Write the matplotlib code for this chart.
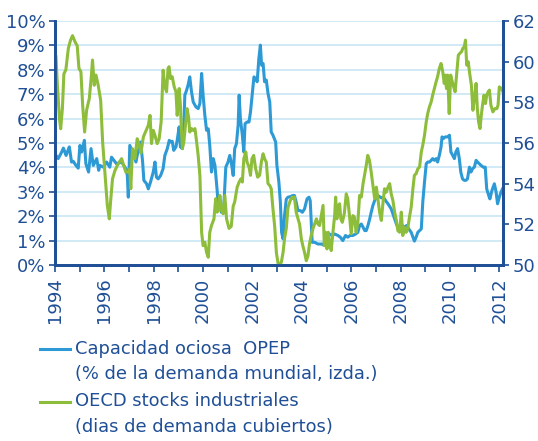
import matplotlib.pyplot as plt
from matplotlib.lines import Line2D
from matplotlib.ticker import FuncFormatter, MultipleLocator

# OPEP spare capacity (% of world demand, left axis)
blue_t = [1994.04, 1994.13, 1994.27, 1994.34, 1994.45, 1994.50, 1994.58, 1994.67, 1994.74, 1994.85,
          1994.94, 1995.01, 1995.08, 1995.19, 1995.25, 1995.36, 1995.46, 1995.55, 1995.69, 1995.77,
          1995.82, 1995.96, 1996.09, 1996.22, 1996.29, 1996.49, 1996.70, 1996.87, 1996.93, 1996.97,
          1997.03, 1997.17, 1997.28, 1997.33, 1997.47, 1997.55, 1997.60, 1997.71, 1997.78, 1997.87,
          1997.98, 1998.05, 1998.11, 1998.18, 1998.28, 1998.38, 1998.45, 1998.55, 1998.63, 1998.68,
          1998.75, 1998.81, 1998.90, 1998.95, 1999.03, 1999.08, 1999.16, 1999.22, 1999.26, 1999.33,
          1999.39, 1999.46, 1999.53, 1999.60, 1999.71, 1999.80, 1999.87, 1999.94, 2000.00, 2000.07,
          2000.14, 2000.21, 2000.27, 2000.34, 2000.41, 2000.48, 2000.57, 2000.62, 2000.68, 2000.74,
          2000.84, 2000.92, 2001.01, 2001.08, 2001.15, 2001.22, 2001.28, 2001.35, 2001.42, 2001.46,
          2001.51, 2001.59, 2001.65, 2001.70, 2001.78, 2001.86, 2001.92, 2002.00, 2002.06, 2002.13,
          2002.19, 2002.26, 2002.32, 2002.37, 2002.43, 2002.49, 2002.56, 2002.63, 2002.70, 2002.76,
          2002.83, 2002.94, 2002.99, 2003.07, 2003.13, 2003.18, 2003.24, 2003.30, 2003.37, 2003.44,
          2003.53, 2003.64, 2003.70, 2003.77, 2003.84, 2003.94, 2004.02, 2004.11, 2004.21, 2004.29,
          2004.34, 2004.42, 2004.52, 2004.65, 2004.79, 2004.88, 2004.99, 2005.06, 2005.12, 2005.23,
          2005.33, 2005.46, 2005.56, 2005.66, 2005.77, 2005.86, 2005.96, 2006.07, 2006.18, 2006.27,
          2006.34, 2006.41, 2006.48, 2006.55, 2006.61, 2006.68, 2006.75, 2006.81, 2006.88, 2006.95,
          2007.02, 2007.08, 2007.15, 2007.22, 2007.29, 2007.35, 2007.42, 2007.49, 2007.56, 2007.62,
          2007.69, 2007.76, 2007.83, 2007.89, 2007.96, 2008.07, 2008.16, 2008.25, 2008.33, 2008.43,
          2008.50, 2008.56, 2008.63, 2008.70, 2008.77, 2008.84, 2008.90, 2008.97, 2009.04, 2009.10,
          2009.17, 2009.24, 2009.30, 2009.37, 2009.44, 2009.50, 2009.57, 2009.64, 2009.68, 2009.73,
          2009.81, 2009.91, 2009.98, 2010.04, 2010.11, 2010.18, 2010.24, 2010.31, 2010.38, 2010.44,
          2010.51, 2010.58, 2010.65, 2010.71, 2010.79, 2010.85, 2010.92, 2010.99, 2011.06, 2011.12,
          2011.19, 2011.26, 2011.35, 2011.43, 2011.49, 2011.57, 2011.62, 2011.70, 2011.80, 2011.87,
          2011.93, 2012.00, 2012.07, 2012.13]
blue_v = [4.49, 4.36, 4.63, 4.79, 4.49, 4.63, 4.84, 4.22, 4.25, 4.08,
          3.97, 4.90, 4.63, 5.11, 4.15, 3.81, 4.77, 4.08, 4.36, 3.88,
          4.08, 4.01, 4.22, 4.01, 4.42, 4.15, 4.22, 3.95, 3.67, 2.78,
          4.90, 4.56, 4.22, 4.49, 5.04, 4.22, 3.47, 3.33, 3.12, 3.40,
          3.81, 4.22, 3.60, 3.53, 3.67, 3.95, 4.49, 4.77, 5.11, 5.04,
          5.07, 4.70, 4.84, 5.11, 5.66, 4.84, 4.77, 5.73, 6.96, 7.16,
          7.37, 7.71, 7.10, 6.68, 6.48, 6.41, 6.62, 7.85, 6.96, 6.14,
          5.52, 5.58, 4.90, 3.81, 4.36, 4.08, 3.05, 2.30, 2.64, 2.16,
          2.44, 4.01, 4.22, 4.49, 4.15, 3.67, 4.77, 4.97, 5.73, 6.96,
          6.00, 5.32, 4.63, 5.79, 5.86, 5.86, 6.27, 7.10, 7.71, 7.64,
          7.51, 8.47, 9.01, 8.19, 8.26, 7.51, 7.58, 7.03, 6.68, 5.45,
          5.32, 5.04, 4.08, 3.40, 2.58, 1.34, 1.07, 2.03, 2.70, 2.78,
          2.80, 2.85, 2.85, 2.58, 2.23, 2.23, 2.16, 2.30, 2.71, 2.78,
          2.64, 0.93, 0.93, 0.86, 0.86, 0.82, 1.21, 1.27, 1.27, 1.21,
          1.27, 1.21, 1.14, 1.00, 1.21, 1.14, 1.21, 1.21, 1.27, 1.34,
          1.62, 1.68, 1.55, 1.41, 1.41, 1.62, 1.89, 2.16, 2.44, 2.64,
          2.78, 2.85, 2.80, 2.75, 2.78, 2.71, 2.60, 2.51, 2.40, 2.30,
          2.10, 1.89, 1.68, 1.55, 1.48, 1.62, 1.55, 1.62, 1.48, 1.34,
          1.14, 0.98, 1.14, 1.34, 1.41, 1.48, 2.58, 3.40, 4.15, 4.22,
          4.22, 4.29, 4.36, 4.29, 4.36, 4.22, 4.49, 4.84, 5.25, 5.18,
          5.25, 5.25, 5.32, 4.63, 4.49, 4.36, 4.63, 4.77, 4.36, 3.81,
          3.53, 3.47, 3.47, 3.53, 4.01, 3.81, 3.95, 4.01, 4.29, 4.22,
          4.15, 4.08, 4.01, 4.01, 3.12, 2.85, 2.71, 3.05, 3.33, 2.99,
          2.51, 2.78, 2.99, 3.12]

# OECD industrial stocks (days of demand covered, right axis)
green_t = [1994.04, 1994.09, 1994.18, 1994.23, 1994.30, 1994.36, 1994.44, 1994.54, 1994.63, 1994.71,
           1994.81, 1994.90, 1994.97, 1995.05, 1995.12, 1995.20, 1995.28, 1995.39, 1995.47, 1995.52,
           1995.59, 1995.66, 1995.75, 1995.85, 1995.93, 1996.02, 1996.12, 1996.20, 1996.25, 1996.33,
           1996.43, 1996.56, 1996.70, 1996.76, 1996.87, 1996.97, 1997.03, 1997.07, 1997.14, 1997.24,
           1997.33, 1997.41, 1997.48, 1997.58, 1997.69, 1997.78, 1997.85, 1997.91, 1997.98, 1998.05,
           1998.14, 1998.22, 1998.30, 1998.38, 1998.45, 1998.52, 1998.58, 1998.62, 1998.68, 1998.75,
           1998.83, 1998.90, 1998.95, 1999.03, 1999.08, 1999.12, 1999.16, 1999.22, 1999.30, 1999.35,
           1999.41, 1999.46, 1999.53, 1999.60, 1999.67, 1999.73, 1999.80, 1999.87, 1999.94, 2000.00,
           2000.07, 2000.14, 2000.21, 2000.27, 2000.34, 2000.44, 2000.51, 2000.57, 2000.62, 2000.68,
           2000.74, 2000.81, 2000.88, 2000.95, 2001.05, 2001.14, 2001.22, 2001.28, 2001.38, 2001.46,
           2001.53, 2001.59, 2001.65, 2001.73, 2001.78, 2001.86, 2001.92, 2001.98, 2002.05, 2002.13,
           2002.21, 2002.29, 2002.36, 2002.43, 2002.49, 2002.56, 2002.63, 2002.70, 2002.76, 2002.83,
           2002.90, 2002.97, 2003.04, 2003.10, 2003.17, 2003.24, 2003.30, 2003.37, 2003.44, 2003.53,
           2003.61, 2003.67, 2003.70, 2003.77, 2003.84, 2003.91, 2003.98, 2004.04, 2004.11, 2004.18,
           2004.25, 2004.31, 2004.38, 2004.45, 2004.52, 2004.59, 2004.65, 2004.72, 2004.79, 2004.86,
           2004.91, 2004.96, 2005.02, 2005.07, 2005.12, 2005.19, 2005.26, 2005.33, 2005.37, 2005.42,
           2005.47, 2005.53, 2005.58, 2005.64, 2005.72, 2005.80, 2005.86, 2005.93, 2006.00, 2006.07,
           2006.13, 2006.20, 2006.27, 2006.34, 2006.41, 2006.48, 2006.54, 2006.61, 2006.67, 2006.74,
           2006.81, 2006.88, 2006.95, 2007.02, 2007.08, 2007.15, 2007.22, 2007.29, 2007.35, 2007.42,
           2007.49, 2007.56, 2007.62, 2007.69, 2007.76, 2007.83, 2007.89, 2007.96, 2008.03, 2008.09,
           2008.16, 2008.23, 2008.29, 2008.36, 2008.43, 2008.50, 2008.56, 2008.63, 2008.70, 2008.77,
           2008.84, 2008.90, 2008.97, 2009.04, 2009.10, 2009.17, 2009.24, 2009.30, 2009.37, 2009.44,
           2009.50, 2009.57, 2009.64, 2009.71, 2009.77, 2009.81, 2009.86, 2009.91, 2009.97, 2010.03,
           2010.08, 2010.13, 2010.21, 2010.27, 2010.34, 2010.40, 2010.47, 2010.52, 2010.58, 2010.63,
           2010.68, 2010.74, 2010.80, 2010.87, 2010.93, 2010.99, 2011.06, 2011.11, 2011.16, 2011.22,
           2011.27, 2011.32, 2011.38, 2011.44, 2011.49, 2011.55, 2011.60, 2011.66, 2011.74, 2011.82,
           2011.90, 2011.95, 2012.00, 2012.09, 2012.15]
green_v = [60.24, 59.0, 57.2, 56.7, 57.7, 59.4, 59.6, 60.65, 61.06, 61.28,
           60.98, 60.78, 59.67, 59.5, 57.86, 56.54, 57.61, 58.19, 59.26, 60.08,
           58.84, 59.34, 58.84, 58.1, 56.05, 54.57, 52.93, 52.27, 53.09, 54.24,
           54.65, 54.98, 55.23, 54.98, 54.57, 54.57, 54.73, 53.75, 55.72, 55.23,
           56.21, 55.9, 55.5, 56.3, 56.62, 56.87, 57.36, 55.97, 56.62, 56.38,
           55.97, 56.21, 57.04, 59.58, 58.76, 58.52, 59.67, 59.75, 59.17, 59.26,
           58.76, 58.52, 57.36, 58.68, 57.86, 56.71, 55.72, 56.05, 57.04, 57.69,
           57.28, 56.54, 56.71, 56.62, 56.71, 56.13, 55.39, 54.41, 51.61, 50.95,
           51.12, 50.62, 50.38, 51.61, 51.94, 52.27, 53.26, 52.6, 52.68, 53.42,
           52.68, 52.52, 53.42, 52.27, 51.8, 51.9, 52.9, 53.1, 53.83, 54.08,
           54.24, 54.08, 55.23, 55.56, 55.06, 54.82, 54.41, 55.23, 55.39, 54.73,
           54.32, 54.41, 55.06, 55.47, 55.23, 55.06, 54.0, 53.91, 53.75, 52.76,
           51.9, 50.6, 50.05, 50.05, 50.13, 50.62, 51.3, 51.8, 52.84, 53.17,
           53.34, 53.26, 53.34, 52.6, 52.3, 52.0, 51.28, 50.95, 50.62, 50.21,
           50.46, 51.04, 51.45, 51.78, 52.02, 52.27, 52.02, 51.94, 52.43, 52.93,
           50.95, 51.61, 50.79, 51.61, 51.12, 50.71, 51.61, 52.43, 53.34, 52.27,
           52.84, 53.01, 52.27, 52.1, 52.52, 53.5, 53.26, 52.43, 51.53, 52.43,
           52.35, 51.61, 52.1, 53.42, 53.34, 54.0, 54.41, 54.9, 55.39, 55.15,
           54.57, 53.91, 53.26, 53.83, 53.26, 52.6, 52.19, 53.09, 53.75, 53.58,
           53.83, 54.0, 53.5, 53.17, 52.6, 52.19, 51.69, 51.61, 52.6, 51.45,
           51.86, 51.61, 51.78, 52.35, 52.84, 53.75, 54.41, 54.49, 54.73, 54.82,
           55.56, 55.89, 56.38, 57.04, 57.45, 57.78, 58.02, 58.35, 58.68, 59.01,
           59.26, 59.67, 59.91, 59.5, 58.93, 59.34, 58.68, 59.34, 57.45, 59.34,
           59.09, 58.84, 58.52, 59.34, 60.32, 60.41, 60.49, 60.65, 60.74, 61.06,
           59.83, 60.0, 59.42, 58.84, 57.61, 58.19, 58.93, 57.69, 57.04, 56.71,
           57.36, 57.86, 58.35, 57.94, 58.35, 58.52, 58.6, 57.86, 57.53, 57.69,
           57.69, 57.86, 58.76, 58.68, 58.52]

blue_label = "Capacidad ociosa  OPEP\n(% de la demanda mundial, izda.)"
green_label = "OECD stocks industriales\n(dias de demanda cubiertos)"

navy = "#1f4f96"
blue = "#2d9ad6"
green = "#8dbd3a"
grid_c = "#c9e6f5"

plt.rcParams['font.family'] = ['DejaVu Sans']

fig = plt.figure(figsize=(5.38, 4.41), dpi=100)
ax = fig.add_axes([55/538, 1-265/441, 448/538, 244/441])
ax2 = ax.twinx()

ax.plot(blue_t, blue_v, color=blue, lw=2.2, solid_joinstyle='round')
ax2.plot(green_t, green_v, color=green, lw=2.2, solid_joinstyle='round')

ax.set_xlim(1994, 2012.15)
ax.set_ylim(0, 10)
ax2.set_ylim(50, 62)

ax.yaxis.set_major_locator(MultipleLocator(1))
ax.yaxis.set_major_formatter(FuncFormatter(lambda v, p: "%d%%" % v))
ax2.yaxis.set_major_locator(MultipleLocator(2))
ax.set_xticks(range(1994, 2013))
ax.set_xticklabels([str(y) if y % 2 == 0 else "" for y in range(1994, 2013)], rotation=90)

ax.grid(axis='y', color=grid_c, lw=1.2)
ax.set_axisbelow(True)

for a in (ax, ax2):
    for s in a.spines.values():
        s.set_color(navy)
        s.set_linewidth(2)
    a.spines['top'].set_visible(False)
    a.tick_params(colors=navy, labelsize=13, width=1.2, length=4, pad=3)
ax.tick_params(axis='x', length=5, pad=4)

# legend below the plot
lx0, lx1, tx = 40/538, 70/538, 75/538
ys = [349, 402]
for (y, col, lab) in zip(ys, [blue, green], [blue_label, green_label]):
    fig.add_artist(Line2D([lx0, lx1], [1-y/441, 1-y/441], color=col, lw=2.2,
                          transform=fig.transFigure))
    fig.text(tx, 1-(y-9.5)/441, lab, color=navy, fontsize=12.9, va='top', ha='left',
             linespacing=1.55)

fig.savefig("out.png", dpi=100)
